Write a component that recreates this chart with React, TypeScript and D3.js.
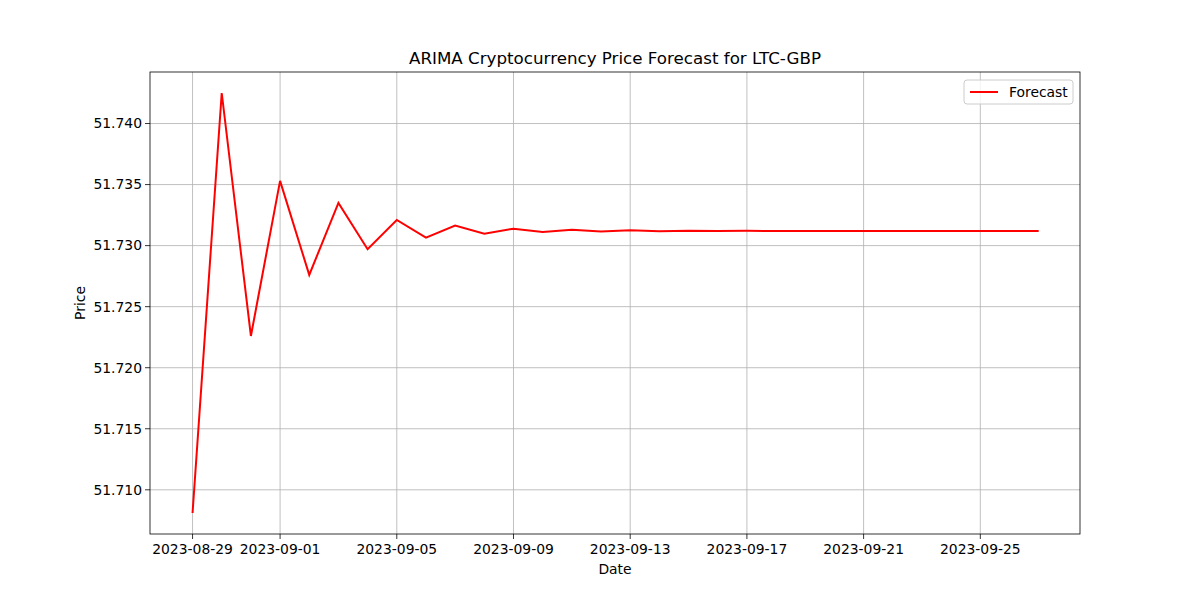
import * as d3 from "d3";

const startDate = new Date(2023, 7, 29);
const dates: Date[] = Array.from({ length: 30 }, (_, i) => d3.timeDay.offset(startDate, i));
const forecast: number[] = [
  51.7081, 51.7425, 51.7226, 51.7353, 51.7276, 51.7335, 51.7297, 51.7321, 51.73066, 51.73164,
  51.73098, 51.73139, 51.73112, 51.7313, 51.73115, 51.73125, 51.73118, 51.73122, 51.73119, 51.73121,
  51.7312, 51.7312, 51.7312, 51.7312, 51.7312, 51.7312, 51.7312, 51.7312, 51.7312, 51.7312,
];
const yTicks = [51.71, 51.715, 51.72, 51.725, 51.73, 51.735, 51.74];
const xTicks = [0, 3, 7, 11, 15, 19, 23, 27].map(d => d3.timeDay.offset(startDate, d));

export default function App() {
  const margin = { top: 72, right: 120, bottom: 66, left: 150 };
  const W = 1200, H = 600;
  const iw = W - margin.left - margin.right;
  const ih = H - margin.top - margin.bottom;

  const span = 29;
  const x = d3.scaleTime()
    .domain([d3.timeHour.offset(startDate, -span * 24 * 0.05), d3.timeHour.offset(dates[29], span * 24 * 0.05)])
    .range([0, iw]);
  const [mn, mx] = d3.extent(forecast) as [number, number];
  const pad = (mx - mn) * 0.05;
  const y = d3.scaleLinear().domain([mn - pad, mx + pad]).range([ih, 0]);
  const line = d3.line<number>().x((_, i) => x(dates[i])).y(d => y(d));
  const fmt = d3.timeFormat("%Y-%m-%d");

  return (
    <div style={{ position: "fixed", left: 0, top: 0 }}>
      <svg width={W} height={H} style={{ fontFamily: "DejaVu Sans", background: "#fff" }}>
        <text x={margin.left + iw / 2} y={64} textAnchor="middle" fontSize={16.7}>
          ARIMA Cryptocurrency Price Forecast for LTC-GBP
        </text>
        <g transform={`translate(${margin.left},${margin.top})`}>
          {xTicks.map(t => (
            <g key={+t} transform={`translate(${x(t)},0)`}>
              <line y1={0} y2={ih} stroke="#b0b0b0" strokeWidth={0.8} />
              <line y1={ih} y2={ih + 5} stroke="#000" strokeWidth={0.8} />
              <text y={ih + 20} textAnchor="middle" fontSize={13.9}>{fmt(t)}</text>
            </g>
          ))}
          {yTicks.map(t => (
            <g key={t} transform={`translate(0,${y(t)})`}>
              <line x1={0} x2={iw} stroke="#b0b0b0" strokeWidth={0.8} />
              <line x1={-5} x2={0} stroke="#000" strokeWidth={0.8} />
              <text x={-8} dy="0.35em" textAnchor="end" fontSize={13.9}>{t.toFixed(3)}</text>
            </g>
          ))}
          <path d={line(forecast)!} fill="none" stroke="red" strokeWidth={2} />
          <rect width={iw} height={ih} fill="none" stroke="#000" strokeWidth={0.8} />
          <g transform={`translate(${iw - 116},8)`}>
            <rect width={109} height={24} rx={3} fill="#fff" fillOpacity={0.8} stroke="#ccc" />
            <line x1={6} x2={34} y1={12} y2={12} stroke="red" strokeWidth={2} />
            <text x={45} y={12} dy="0.35em" fontSize={13.9}>Forecast</text>
          </g>
        </g>
        <text x={margin.left + iw / 2} y={574} textAnchor="middle" fontSize={13.9}>Date</text>
        <text transform={`translate(85,${margin.top + ih / 2}) rotate(-90)`} textAnchor="middle" fontSize={13.9}>Price</text>
      </svg>
    </div>
  );
}
